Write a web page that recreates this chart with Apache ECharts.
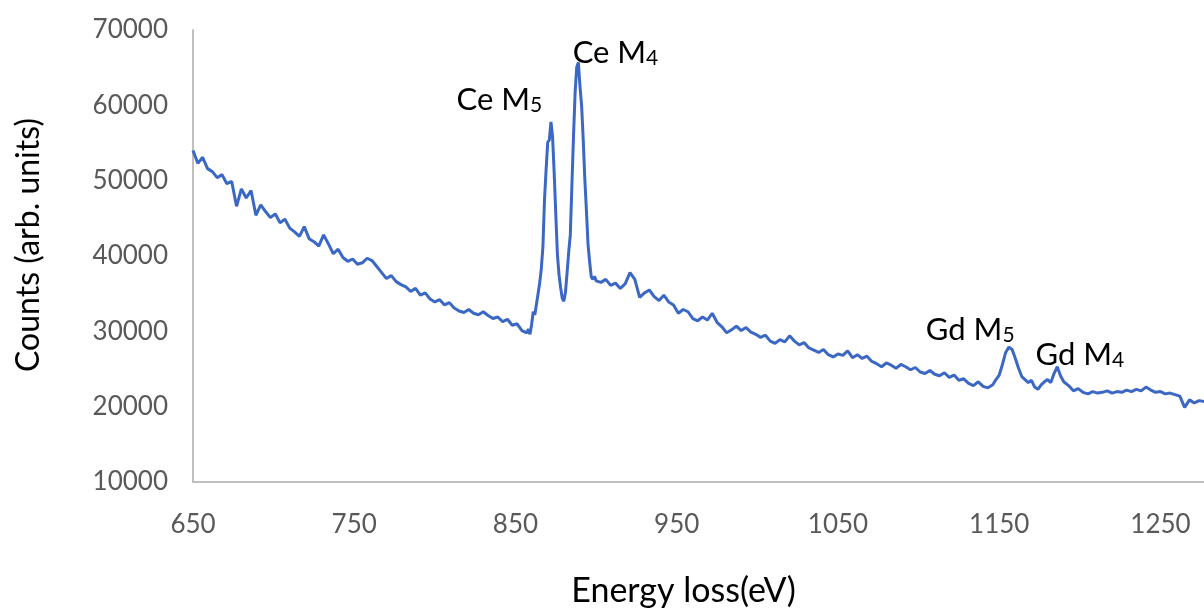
<!DOCTYPE html>
<html>
<head>
<meta charset="utf-8">
<script src="https://cdn.jsdelivr.net/npm/echarts@6/dist/echarts.min.js"></script>
<style>
  html, body { margin: 0; padding: 0; background: #fff; }
  #main { width: 1204px; height: 613px; }
</style>
</head>
<body>
<div id="main"></div>
<script>
// EELS spectrum, energy loss (eV) vs counts
var energy = [
  650, 653, 656, 659, 662, 665, 668, 671, 674, 677,
  680, 683, 686, 689, 692, 695, 698, 701, 704, 707,
  710, 713, 716, 719, 722, 725, 728, 731, 734, 737,
  740, 743, 746, 749, 752, 755, 758, 761, 764, 767,
  770, 773, 776, 779, 782, 785, 788, 791, 794, 797,
  800, 803, 806, 809, 812, 815, 818, 821, 824, 827,
  830, 833, 836, 839, 842, 845, 848, 851, 854, 857,
  858, 859, 860, 861, 862, 863, 864, 865, 866, 867,
  868, 869, 870, 871, 872, 873, 874, 875, 876, 877,
  878, 879, 880, 881, 882, 883, 884, 885, 886, 887,
  888, 889, 890, 891, 892, 893, 894, 895, 896, 897,
  898, 899, 900,
  903, 906, 909, 912, 915, 918, 921, 924, 927, 930,
  933, 936, 939, 942, 945, 948, 951, 954, 957, 960,
  963, 966, 969, 972, 975, 978, 981, 984, 987, 990,
  993, 996, 999, 1002, 1005, 1008, 1011, 1014, 1017, 1020,
  1023, 1026, 1029, 1032, 1035, 1038, 1041, 1044, 1047, 1050,
  1053, 1056, 1059, 1062, 1065, 1068, 1071, 1074, 1077, 1080,
  1083, 1086, 1089, 1092, 1095, 1098, 1101, 1104, 1107, 1110,
  1113, 1116, 1119, 1122, 1125, 1128, 1131, 1134, 1137, 1140,
  1143, 1146,
  1148, 1150, 1152, 1154, 1156, 1158, 1160, 1162, 1164, 1166,
  1168, 1170, 1172, 1174, 1176, 1178, 1180, 1182, 1184, 1186,
  1188, 1190,
  1193, 1196, 1199, 1202, 1205, 1208, 1211, 1214, 1217, 1220,
  1223, 1226, 1229, 1232, 1235, 1238, 1241, 1244, 1247, 1250,
  1253, 1256, 1259, 1262, 1265, 1268, 1271, 1274, 1277
];

var counts = [
  54000, 52300, 53100, 51600, 51200, 50400, 50800, 49600, 49900, 46600,
  48900, 47700, 48700, 45400, 46800, 45900, 45100, 45600, 44400, 44900,
  43700, 43200, 42600, 43900, 42300, 41900, 41300, 42800, 41600, 40300,
  40900, 39800, 39300, 39600, 38900, 39100, 39700, 39400, 38600, 37800,
  37000, 37400, 36600, 36200, 35900, 35300, 35700, 34800, 35100, 34300,
  33900, 34200, 33500, 33800, 33100, 32700, 32500, 32900, 32400, 32200,
  32600, 32100, 31700, 31900, 31300, 31600, 30800, 31000, 30100, 29800,
  30300, 29600, 30900, 32600, 32200, 33600, 35000, 36400, 38300, 41200,
  47500, 51500, 55100, 55400, 57800, 55800, 51000, 45500, 40200, 37500,
  35800, 34400, 34000, 35200, 37800, 40500, 42800, 49500, 56000, 61800,
  65100, 65700, 62500, 60000, 55500, 50200, 46000, 41500, 39200, 37200,
  36900, 37300, 36700,
  36500, 36900, 36100, 36400, 35700, 36300, 37800, 36900, 34500, 35100,
  35500, 34600, 34100, 34800, 33900, 33500, 32400, 32900, 32600, 31700,
  31400, 31900, 31500, 32400, 31200, 30600, 29800, 30200, 30700, 30100,
  30500, 29900, 29600, 29200, 29500, 28700, 28400, 28900, 28600, 29400,
  28700, 28200, 28500, 27800, 27500, 27200, 27600, 26900, 26600, 27000,
  26800, 27400, 26500, 26900, 26400, 26700, 26000, 25700, 25300, 25800,
  25500, 25100, 25600, 25300, 24900, 25200, 24600, 24400, 24800, 24300,
  24100, 24500, 23900, 24200, 23500, 23700, 23100, 22800, 23300, 22700,
  22500, 22900,
  23600, 24200, 25600, 27200, 27900, 27600, 26400, 25100, 24000, 23600,
  23200, 23500, 22600, 22300, 22900, 23300, 23600, 23200, 24400, 25300,
  24100, 23300,
  22800, 22100, 22400, 21900, 21700, 22000, 21800, 21900, 22100, 21800,
  22000, 21900, 22200, 22000, 22300, 22100, 22600, 22200, 21900, 22000,
  21700, 21800, 21600, 21400, 19900, 20900, 20500, 20800, 20700
];

// peak labels: element, edge subscript, where the label sits (eV, counts)
var peakNames = ['Ce M', 'Ce M', 'Gd M', 'Gd M'];
var peakSubs = ['5', '4', '5', '4'];
var peakAt = [[840, 61300], [912, 67500], [1132, 30800], [1200, 27400]];

var points = energy.map(function (e, i) { return [e, counts[i]]; });

var chart = echarts.init(document.getElementById('main'));

var option = {
    backgroundColor: '#ffffff',
    animation: false,
    grid: {
        left: 193,
        right: 0,
        top: 30,
        bottom: 124
    },
    xAxis: {
        type: 'value',
        min: 650,
        max: 1277,
        interval: 100,
        name: 'Energy loss(eV)',
        nameLocation: 'middle',
        nameGap: 92,
        nameTextStyle: { fontFamily: 'Lato', fontSize: 34, color: '#000', padding: [0, 30, 0, 0] },
        axisLine: { lineStyle: { color: '#bfbfbf', width: 2 } },
        axisTick: { show: false },
        splitLine: { show: false },
        axisLabel: {
            margin: 30,
            showMaxLabel: false,
            formatter: function (v) { return String(v); },
            fontFamily: 'Lato',
            fontSize: 26,
            color: '#595959'
        }
    },
    yAxis: {
        type: 'value',
        min: 10000,
        max: 70000,
        interval: 10000,
        name: 'Counts (arb. units)',
        nameLocation: 'middle',
        nameGap: 148,
        nameTextStyle: { fontFamily: 'Lato', fontSize: 32, color: '#000', padding: [0, 0, 0, 22] },
        axisLine: { show: true, lineStyle: { color: '#bfbfbf', width: 2 } },
        axisTick: { show: false },
        splitLine: { show: false },
        axisLabel: {
            margin: 25,
            formatter: function (v) { return String(v); },
            fontFamily: 'Lato',
            fontSize: 26,
            color: '#595959'
        }
    },
    series: [{
        type: 'line',
        data: points,
        showSymbol: false,
        lineStyle: { color: '#3a68c4', width: 3 },
        markPoint: {
            symbol: 'circle',
            symbolSize: 1,
            itemStyle: { color: 'rgba(0,0,0,0)' },
            label: {
                show: true,
                position: 'inside',
                formatter: function (p) {
                    return '{a|' + p.data.name + '}{s|' + p.data.sub + '}';
                },
                rich: {
                    a: { fontFamily: 'Lato', fontSize: 31, color: '#000', verticalAlign: 'bottom', lineHeight: 38 },
                    s: { fontFamily: 'Lato', fontSize: 21, color: '#000', verticalAlign: 'top', padding: [19, 0, 0, 0] }
                }
            },
            data: peakNames.map(function (n, i) {
                return { name: n, sub: peakSubs[i], coord: peakAt[i] };
            })
        }
    }]
};

chart.setOption(option);
</script>
</body>
</html>
